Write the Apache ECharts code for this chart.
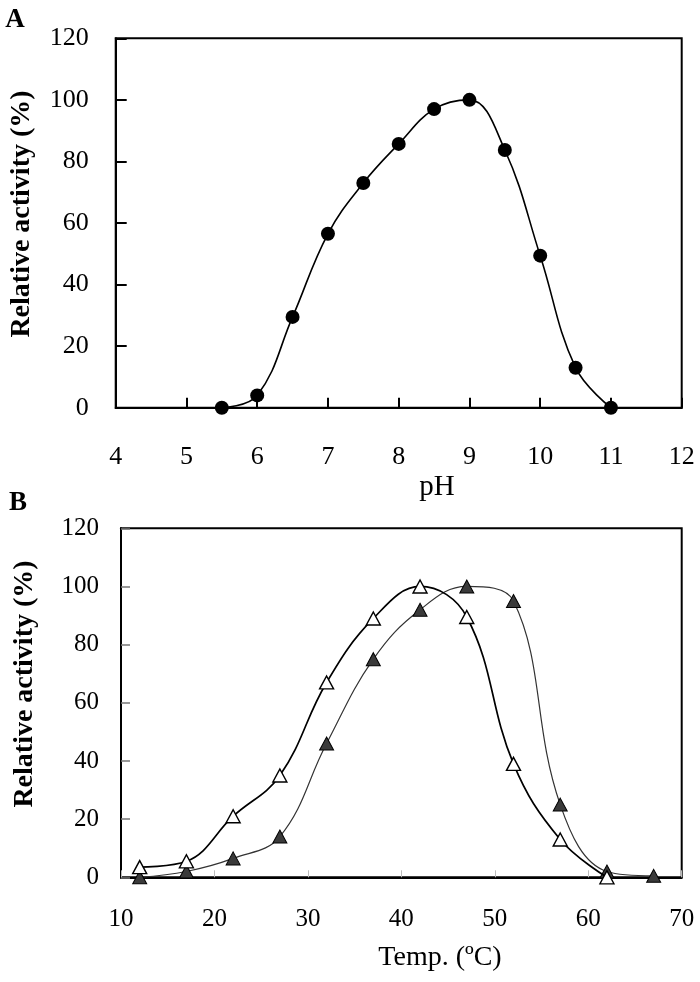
<!DOCTYPE html>
<html>
<head>
<meta charset="utf-8">
<script src="https://cdn.jsdelivr.net/npm/echarts@6/dist/echarts.min.js"></script>
<style>
html,body{margin:0;padding:0;background:#fff;}
#chart{width:700px;height:982px;}
</style>
</head>
<body>
<div id="chart"></div>
<script>
// Panel A: pH profile
const phValues = [5.5, 6, 6.5, 7, 7.5, 8, 8.5, 9, 9.5, 10, 10.5, 11];
const phActivity = [0, 4, 29.5, 56.5, 73, 85.7, 97, 100, 83.7, 49.4, 13, 0];

// Panel B: temperature profile
const tempOpenX = [12, 17, 22, 27, 32, 37, 42, 47, 52, 57, 62];
const tempOpenY = [3.5, 5.5, 21, 35, 67, 89, 100, 89.5, 39, 13, 0];
const tempFilledX = [12, 17, 22, 27, 32, 37, 42, 47, 52, 57, 62, 67];
const tempFilledY = [0, 2, 6.5, 14, 46, 75, 92, 100, 95, 25, 2, 0.5];

// Axis ranges / ticks
const phAxis = {min: 4, max: 12, interval: 1};
const tempAxis = {min: 10, max: 70, interval: 10};
const activityAxis = {min: 0, max: 120, interval: 20};

const zip = (xs, ys) => xs.map((x, i) => [x, ys[i]]);
const FONT = 'Liberation Serif';

const chart = echarts.init(document.getElementById('chart'), null, {renderer: 'canvas'});

const labelStyle = {fontFamily: FONT, fontSize: 26, color: '#000'};

chart.setOption({
  backgroundColor: '#fff',
  animation: false,
  grid: [
    {left: 115.7, top: 38.3, right: 18.3, height: 369.4, show: true, borderColor: '#000', borderWidth: 2, backgroundColor: 'transparent'},
    {left: 121, top: 528.3, right: 18.3, height: 349, show: true, borderColor: '#000', borderWidth: 2, backgroundColor: 'transparent'}
  ],
  xAxis: [
    {
      type: 'value', gridIndex: 0, min: phAxis.min, max: phAxis.max, interval: phAxis.interval,
      axisLine: {show: true, lineStyle: {color: '#000', width: 2}},
      axisTick: {show: true, inside: true, length: 10, lineStyle: {color: '#000', width: 2}},
      axisLabel: Object.assign({margin: 36}, labelStyle),
      splitLine: {show: false}
    },
    {
      type: 'value', gridIndex: 1, min: tempAxis.min, max: tempAxis.max, interval: tempAxis.interval,
      axisLine: {show: true, lineStyle: {color: '#000', width: 2}},
      axisTick: {show: true, inside: true, length: 7, lineStyle: {color: '#bbb', width: 1}},
      axisLabel: Object.assign({margin: 30}, labelStyle, {fontSize: 25}),
      splitLine: {show: false}
    }
  ],
  yAxis: [
    {
      type: 'value', gridIndex: 0, min: activityAxis.min, max: activityAxis.max, interval: activityAxis.interval,
      axisLine: {show: true, lineStyle: {color: '#000', width: 2}},
      axisTick: {show: true, inside: true, length: 11, lineStyle: {color: '#000', width: 2}},
      axisLabel: Object.assign({margin: 27}, labelStyle),
      splitLine: {show: false}
    },
    {
      type: 'value', gridIndex: 1, min: activityAxis.min, max: activityAxis.max, interval: activityAxis.interval,
      axisLine: {show: true, lineStyle: {color: '#000', width: 2}},
      axisTick: {show: true, inside: true, length: 9, lineStyle: {color: '#777', width: 1.5}},
      axisLabel: Object.assign({margin: 22}, labelStyle, {fontSize: 25}),
      splitLine: {show: false}
    }
  ],
  series: [
    {
      type: 'line', xAxisIndex: 0, yAxisIndex: 0,
      data: zip(phValues, phActivity),
      smooth: 0.4,
      symbol: 'circle', symbolSize: 14,
      itemStyle: {color: '#000'},
      lineStyle: {color: '#000', width: 1.6},
      z: 3
    },
    {
      type: 'line', xAxisIndex: 1, yAxisIndex: 1,
      data: zip(tempFilledX, tempFilledY),
      smooth: 0.4,
      symbol: 'triangle', symbolSize: [14, 13],
      itemStyle: {color: '#3a3a3a', borderColor: '#000', borderWidth: 1},
      lineStyle: {color: '#333', width: 1.2},
      z: 3
    },
    {
      type: 'line', xAxisIndex: 1, yAxisIndex: 1,
      data: zip(tempOpenX, tempOpenY),
      smooth: 0.4,
      symbol: 'triangle', symbolSize: [14, 13],
      itemStyle: {color: '#fff', borderColor: '#000', borderWidth: 1.4},
      lineStyle: {color: '#000', width: 1.7},
      z: 4
    }
  ],
  graphic: [
    {type: 'text', x: 15, y: 20, style: {text: 'A', fontFamily: FONT, fontWeight: 'bold', fontSize: 27, fill: '#000', textAlign: 'center', textVerticalAlign: 'middle'}},
    {type: 'text', x: 18, y: 503, style: {text: 'B', fontFamily: FONT, fontWeight: 'bold', fontSize: 27, fill: '#000', textAlign: 'center', textVerticalAlign: 'middle'}},
    {type: 'text', x: 437, y: 487, style: {text: 'pH', fontFamily: FONT, fontSize: 29, fill: '#000', textAlign: 'center', textVerticalAlign: 'middle'}},
    {type: 'text', x: 440, y: 958, style: {text: 'Temp. (ºC)', fontFamily: FONT, fontSize: 28, fill: '#000', textAlign: 'center', textVerticalAlign: 'middle'}},
    {type: 'text', x: 22, y: 214, rotation: Math.PI / 2, style: {text: 'Relative activity (%)', fontFamily: FONT, fontWeight: 'bold', fontSize: 28, fill: '#000', textAlign: 'center', textVerticalAlign: 'middle'}},
    {type: 'text', x: 25, y: 684, rotation: Math.PI / 2, style: {text: 'Relative activity (%)', fontFamily: FONT, fontWeight: 'bold', fontSize: 28, fill: '#000', textAlign: 'center', textVerticalAlign: 'middle'}}
  ]
});
</script>
</body>
</html>
